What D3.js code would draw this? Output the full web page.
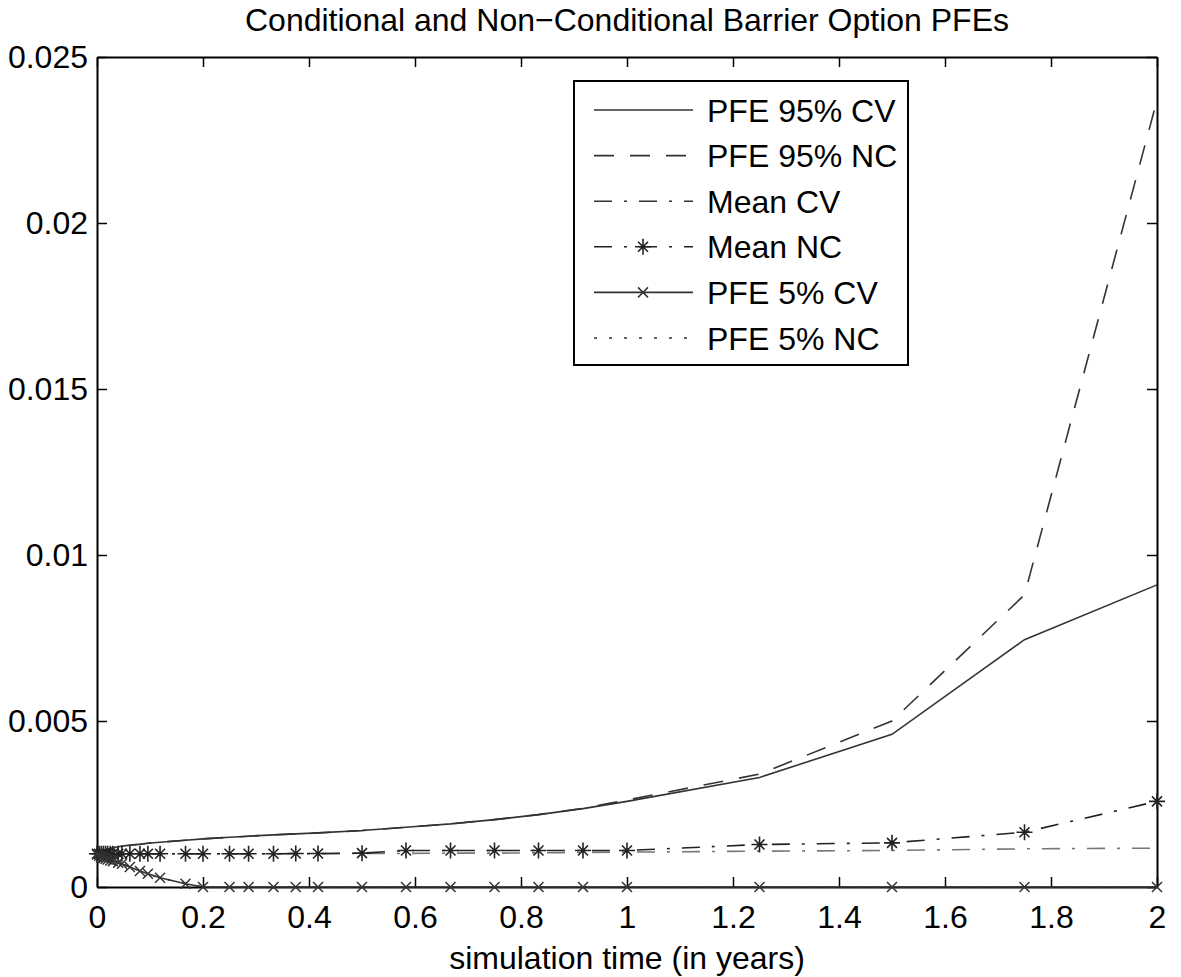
<!DOCTYPE html>
<html>
<head>
<meta charset="utf-8">
<script src="https://cdn.jsdelivr.net/npm/d3@7"></script>
<style>
  body { margin: 0; background: #fff; }
  svg { font-family: "Liberation Sans", Arial, sans-serif; }
</style>
</head>
<body>
<svg id="chart"></svg>
<script>
// simulation times (years)
const times = [0, 0.004, 0.008, 0.012, 0.016, 0.02, 0.025, 0.03, 0.04, 0.047, 0.062, 0.081, 0.096, 0.119,
  0.167, 0.2, 0.25, 0.286, 0.333, 0.375, 0.417, 0.5, 0.583, 0.667, 0.75, 0.833, 0.917, 1, 1.25, 1.5, 1.75, 2];

const pfe95CV = [0.00100, 0.00105, 0.00108, 0.00110, 0.00112, 0.00114, 0.00116, 0.00118, 0.00121, 0.00123, 0.00126,
  0.00129, 0.00132, 0.00135, 0.00141, 0.00145, 0.00150, 0.00153, 0.00157, 0.00160, 0.00163, 0.00170, 0.00180,
  0.00190, 0.00203, 0.00218, 0.00236, 0.00258, 0.00330, 0.00460, 0.00745, 0.00910];
const pfe95NC = [0.00100, 0.00105, 0.00108, 0.00110, 0.00112, 0.00114, 0.00116, 0.00118, 0.00121, 0.00123, 0.00126,
  0.00129, 0.00132, 0.00135, 0.00141, 0.00145, 0.00150, 0.00153, 0.00157, 0.00160, 0.00163, 0.00170, 0.00180,
  0.00190, 0.00203, 0.00218, 0.00237, 0.00262, 0.00340, 0.00500, 0.00880, 0.02370];
const meanCV = [0.00100, 0.00100, 0.00100, 0.00100, 0.00100, 0.00100, 0.00100, 0.00100, 0.00100, 0.00100, 0.00100,
  0.00100, 0.00100, 0.00100, 0.00100, 0.00100, 0.00100, 0.00100, 0.00100, 0.00100, 0.00100, 0.00101, 0.00101,
  0.00102, 0.00102, 0.00103, 0.00104, 0.00105, 0.00108, 0.00110, 0.00115, 0.00117];
const meanNC = [0.00100, 0.00100, 0.00100, 0.00100, 0.00100, 0.00100, 0.00100, 0.00100, 0.00100, 0.00100, 0.00100,
  0.00100, 0.00100, 0.00100, 0.00100, 0.00100, 0.00100, 0.00100, 0.00100, 0.00101, 0.00101, 0.00102, 0.00110,
  0.00110, 0.00110, 0.00110, 0.00110, 0.00110, 0.00128, 0.00133, 0.00165, 0.00258];
const pfe5CV = [0.00098, 0.00094, 0.00090, 0.00087, 0.00085, 0.00083, 0.00080, 0.00078, 0.00073, 0.00070, 0.00060,
  0.00048, 0.00040, 0.00028, 0.00010, 0, 0, 0, 0, 0, 0, 0, 0, 0, 0, 0, 0, 0, 0, 0, 0, 0];
const pfe5NC = [0.00098, 0.00094, 0.00090, 0.00087, 0.00085, 0.00083, 0.00080, 0.00078, 0.00073, 0.00070, 0.00060,
  0.00048, 0.00040, 0.00028, 0.00010, 0, 0, 0, 0, 0, 0, 0, 0, 0, 0, 0, 0, 0, 0, 0, 0, 0];

const seriesNames = ['PFE 95% CV', 'PFE 95% NC', 'Mean CV', 'Mean NC', 'PFE 5% CV', 'PFE 5% NC'];
const xTicks = [0, 0.2, 0.4, 0.6, 0.8, 1, 1.2, 1.4, 1.6, 1.8, 2];
const yTicks = [0, 0.005, 0.01, 0.015, 0.02, 0.025];

const W = 1181, H = 977;
const m = { left: 97, right: 24, top: 57, bottom: 90 };
const fs = 32;

const svg = d3.select('#chart').attr('width', W).attr('height', H);

const x = d3.scaleLinear().domain([0, 2]).range([m.left, W - m.right]);
const y = d3.scaleLinear().domain([0, 0.025]).range([H - m.bottom, m.top]);

const series = [
  { name: seriesNames[0], vals: pfe95CV, dash: null, color: '#333', marker: null },
  { name: seriesNames[1], vals: pfe95NC, dash: '20,16', color: '#333', marker: null },
  { name: seriesNames[2], vals: meanCV, dash: '18,12,3,12', color: '#777', marker: null },
  { name: seriesNames[3], vals: meanNC, dash: '18,12,3,12', color: '#222', marker: 'star' },
  { name: seriesNames[4], vals: pfe5CV, dash: null, color: '#333', marker: 'x' },
  { name: seriesNames[5], vals: pfe5NC, dash: '3,12', color: '#333', marker: null }
];

// axes (ticks pointing inward)
const xAxis = d3.axisBottom(x).tickValues(xTicks).tickFormat(d3.format('')).tickSize(-10).tickSizeOuter(0).tickPadding(18);
const yAxis = d3.axisLeft(y).tickValues(yTicks).tickFormat(d => d === 0 ? '0' : d3.format('')(d)).tickSize(-10).tickSizeOuter(0).tickPadding(9);

svg.append('g').attr('transform', `translate(0,${y(0)})`).call(xAxis);
svg.append('g').attr('transform', `translate(0,${m.top})`).call(d3.axisTop(x).tickValues(xTicks).tickFormat('').tickSize(-10).tickSizeOuter(0));
svg.append('g').attr('transform', `translate(${m.left},0)`).call(yAxis);
svg.append('g').attr('transform', `translate(${W - m.right},0)`).call(d3.axisRight(y).tickValues(yTicks).tickFormat('').tickSize(-10).tickSizeOuter(0));

svg.selectAll('.tick line').attr('stroke', '#000').attr('stroke-width', 1.5);
svg.selectAll('.domain').attr('stroke', '#000').attr('stroke-width', 2);
svg.selectAll('.tick text').attr('font-size', fs).attr('font-family', '"Liberation Sans", Arial, sans-serif').attr('fill', '#000');

// lines
const line = d3.line().x((d, i) => x(times[i])).y(d => y(d));

series.forEach(s => {
  svg.append('path')
    .attr('d', line(s.vals))
    .attr('fill', 'none')
    .attr('stroke', s.color)
    .attr('stroke-width', 1.6)
    .attr('stroke-dasharray', s.dash);
});

function drawMarker(g, type, cx, cy, color) {
  if (type === 'star') {
    const r = 8, d = 5;
    g.append('path')
      .attr('d', `M${cx - r},${cy}H${cx + r}M${cx},${cy - r}V${cy + r}M${cx - d},${cy - d}L${cx + d},${cy + d}M${cx - d},${cy + d}L${cx + d},${cy - d}`)
      .attr('stroke', color).attr('stroke-width', 1.6).attr('fill', 'none');
  } else if (type === 'x') {
    const d = 5;
    g.append('path')
      .attr('d', `M${cx - d},${cy - d}L${cx + d},${cy + d}M${cx - d},${cy + d}L${cx + d},${cy - d}`)
      .attr('stroke', color).attr('stroke-width', 1.5).attr('fill', 'none');
  }
}

const markers = svg.append('g');
series.filter(s => s.marker).forEach(s => {
  s.vals.forEach((v, i) => drawMarker(markers, s.marker, x(times[i]), y(v), s.color));
});

// title + x label
svg.append('text')
  .attr('x', (x(0) + x(2)) / 2).attr('y', 31)
  .attr('text-anchor', 'middle').attr('font-size', fs)
  .text('Conditional and Non\u2212Conditional Barrier Option PFEs');

svg.append('text')
  .attr('x', (x(0) + x(2)) / 2).attr('y', 969)
  .attr('text-anchor', 'middle').attr('font-size', fs)
  .text('simulation time (in years)');

// legend
const lg = svg.append('g');
lg.append('rect')
  .attr('x', 574).attr('y', 81).attr('width', 334).attr('height', 284)
  .attr('fill', '#fff').attr('stroke', '#000').attr('stroke-width', 2);

series.forEach((s, i) => {
  const ly = 110 + i * 45.6;
  lg.append('line')
    .attr('x1', 594).attr('x2', 693).attr('y1', ly).attr('y2', ly)
    .attr('stroke', s.color === '#777' ? '#333' : s.color).attr('stroke-width', 1.6)
    .attr('stroke-dasharray', s.dash);
  if (s.marker) drawMarker(lg, s.marker, 643, ly, s.color);
  lg.append('text')
    .attr('x', 707).attr('y', ly).attr('dy', '0.36em')
    .attr('font-size', fs)
    .text(s.name);
});
</script>
</body>
</html>
